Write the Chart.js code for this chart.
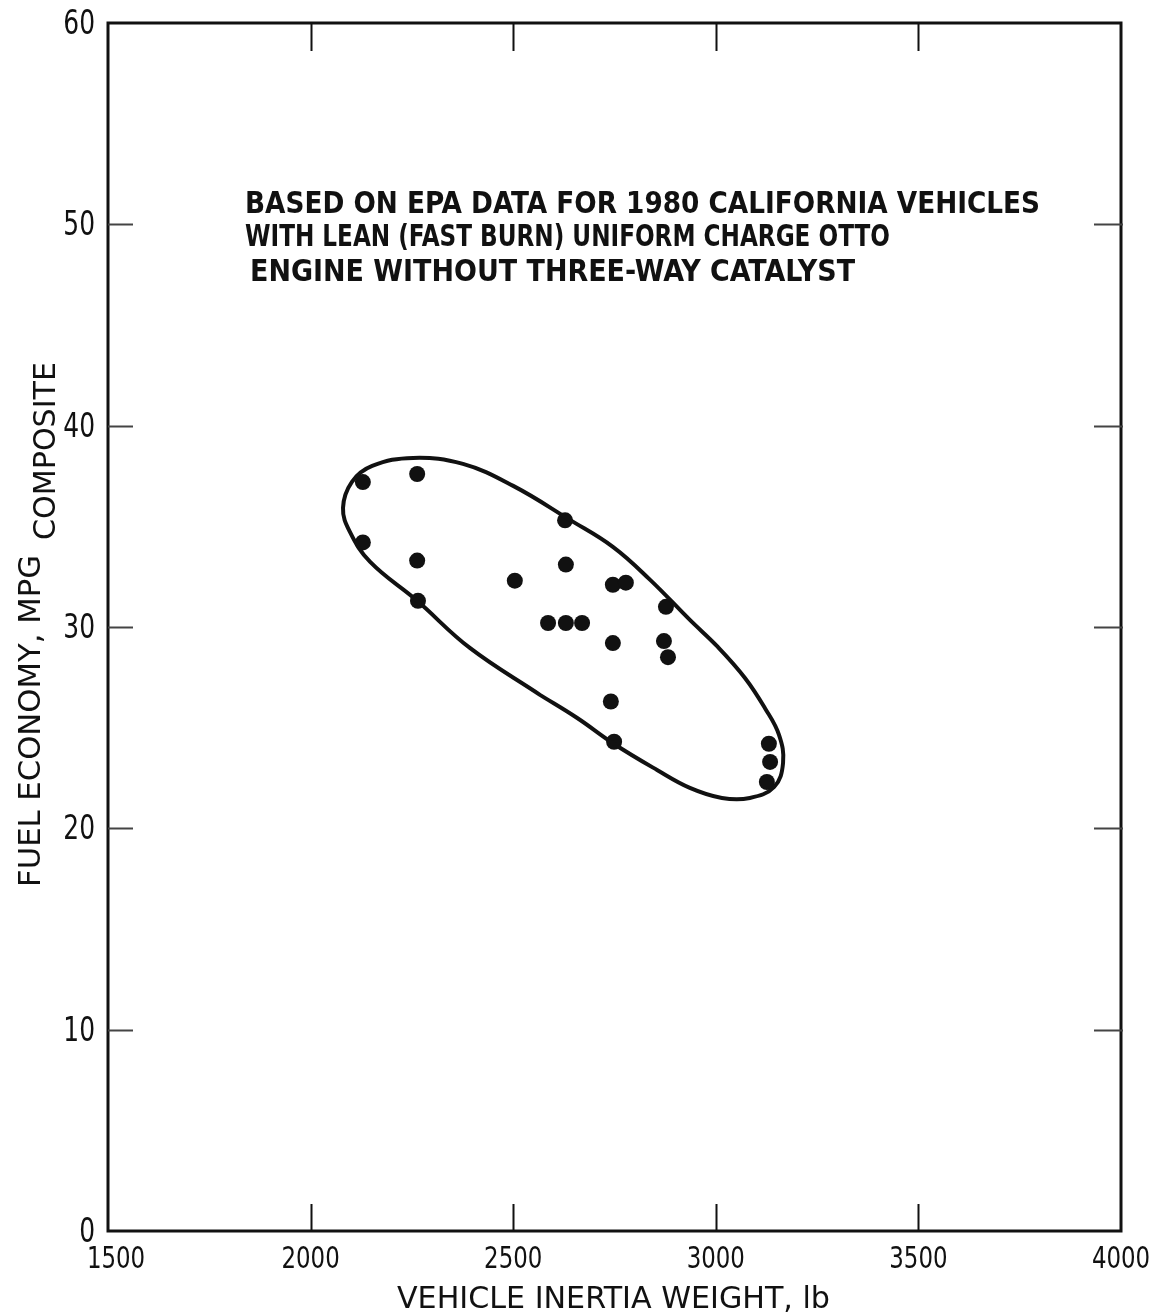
<!DOCTYPE html>
<html>
<head>
<meta charset="utf-8">
<script src="https://cdn.jsdelivr.net/npm/chart.js@4.4.1/dist/chart.umd.min.js"></script>
<style>
  html, body { margin: 0; padding: 0; background: #fff; }
  #wrap { width: 1156px; height: 1315px; position: relative; }
</style>
</head>
<body>
<div id="wrap"><canvas id="c"></canvas></div>
<script>
// Vehicle inertia weight (lb) and composite fuel economy (mpg) per vehicle
const weights = [2129, 2263, 2628, 2129, 2263, 2630, 2504, 2746, 2778, 2265, 2586,
                 2630, 2670, 2877, 2872, 2882, 2746, 2741, 2749, 3131, 3134, 3126];
const mpg     = [37.2, 37.6, 35.3, 34.2, 33.3, 33.1, 32.3, 32.1, 32.2, 31.3, 30.2,
                 30.2, 30.2, 31.0, 29.3, 28.5, 29.2, 26.3, 24.3, 24.2, 23.3, 22.3];

// Hand-drawn envelope around the data (closed loop, starts and ends on the lower edge)
const envelopeWeight = [2566, 2393, 2263, 2147, 2097, 2080, 2102, 2152, 2253, 2376, 2500, 2640, 2746, 2838,
                        2936, 3005, 3072, 3121, 3156, 3166, 3144, 3084, 3015, 2936, 2855, 2749, 2658, 2566];
const envelopeMpg    = [26.63, 28.96, 31.30, 33.23, 34.72, 35.92, 37.21, 38.00, 38.40, 38.10, 37.01, 35.32, 33.98, 32.34,
                        30.35, 29.01, 27.47, 25.98, 24.64, 23.25, 22.06, 21.51, 21.51, 22.01, 22.90, 24.19, 25.48, 26.63];

// Axis ticks
const xTicks = [1500, 2000, 2500, 3000, 3500, 4000];
const yTicks = [0, 10, 20, 30, 40, 50, 60];

const xTitle = 'VEHICLE INERTIA WEIGHT, lb';
const yTitleMain = 'FUEL ECONOMY, MPG';
const yTitleSub = 'COMPOSITE';
const noteLines = [
  'BASED ON EPA DATA FOR 1980 CALIFORNIA VEHICLES',
  'WITH LEAN (FAST BURN) UNIFORM CHARGE OTTO',
  'ENGINE WITHOUT THREE-WAY CATALYST'
];

const points = weights.map((w, i) => ({ x: w, y: mpg[i] }));
const envelope = envelopeWeight.map((w, i) => ({ x: w, y: envelopeMpg[i] }));

const INK = '#111';
const FACE = '"DejaVu Sans Condensed", "DejaVu Sans", sans-serif';

// Draw text squeezed/stretched to a given width (left aligned)
function fitText(ctx, text, x, y, width) {
  const w = ctx.measureText(text).width;
  ctx.save();
  ctx.translate(x, y);
  ctx.scale(width / w, 1);
  ctx.textAlign = 'left';
  ctx.fillText(text, 0, 0);
  ctx.restore();
}

// Draw text with a horizontal squeeze, aligned around x
function narrowText(ctx, text, x, y, sx, align) {
  const w = ctx.measureText(text).width * sx;
  let left = x;
  if (align === 'center') left = x - w / 2;
  else if (align === 'right') left = x - w;
  ctx.save();
  ctx.translate(left, y);
  ctx.scale(sx, 1);
  ctx.textAlign = 'left';
  ctx.fillText(text, 0, 0);
  ctx.restore();
}

const framePlugin = {
  id: 'frame',
  afterDraw(chart) {
    const { ctx, chartArea: a, scales } = chart;
    const xs = scales.x, ys = scales.y;
    ctx.save();
    ctx.strokeStyle = INK;
    ctx.lineCap = 'butt';

    // outer frame
    ctx.lineWidth = 3;
    ctx.strokeRect(a.left, a.top, a.right - a.left, a.bottom - a.top);

    // inward ticks on top and bottom
    ctx.lineWidth = 2;
    xTicks.slice(1, -1).forEach(v => {
      const px = Math.round(xs.getPixelForValue(v)) + 0.5;
      ctx.beginPath();
      ctx.moveTo(px, a.top); ctx.lineTo(px, a.top + 28);
      ctx.moveTo(px, a.bottom); ctx.lineTo(px, a.bottom - 27);
      ctx.stroke();
    });
    // ticks on left and right
    ctx.strokeStyle = '#444';
    yTicks.slice(1, -1).forEach(v => {
      const py = Math.round(ys.getPixelForValue(v)) + 0.5;
      ctx.beginPath();
      ctx.moveTo(a.left, py); ctx.lineTo(a.left + 25, py);
      ctx.moveTo(a.right + 2, py); ctx.lineTo(a.right - 27, py);
      ctx.stroke();
    });

    // tick labels
    ctx.fillStyle = INK;
    ctx.textBaseline = 'alphabetic';
    ctx.font = '33px ' + FACE;
    yTicks.forEach(v => {
      narrowText(ctx, String(v), a.left - 13, ys.getPixelForValue(v) + 11, 0.84, 'right');
    });
    ctx.font = '31px ' + FACE;
    xTicks.forEach((v, i) => {
      const off = i === 0 ? 8 : 0;
      narrowText(ctx, String(v), xs.getPixelForValue(v) + off, a.bottom + 37, 0.82, 'center');
    });

    // x axis title
    ctx.font = '31px ' + FACE;
    fitText(ctx, xTitle, 397, a.bottom + 77, 433);

    // y axis title, rotated
    ctx.save();
    ctx.translate(40, 887);
    ctx.rotate(-Math.PI / 2);
    ctx.font = '31px ' + FACE;
    fitText(ctx, yTitleMain, 0, 0, 332);
    fitText(ctx, yTitleSub, 347, 15, 178);
    ctx.restore();

    // note block
    ctx.font = 'bold 31px ' + FACE;
    fitText(ctx, noteLines[0], 245, 213, 795);
    fitText(ctx, noteLines[1], 245, 246, 645);
    fitText(ctx, noteLines[2], 250, 281, 605);
    ctx.restore();
  }
};

new Chart(document.getElementById('c'), {
  type: 'scatter',
  data: {
    datasets: [
      {
        label: 'Envelope',
        data: envelope,
        showLine: true,
        tension: 0.4,
        borderColor: INK,
        borderWidth: 4,
        pointRadius: 0,
        fill: false
      },
      {
        label: 'Vehicles',
        data: points,
        pointRadius: 8,
        pointBackgroundColor: INK,
        pointBorderColor: INK,
        pointBorderWidth: 0,
        showLine: false
      }
    ]
  },
  options: {
    responsive: true,
    maintainAspectRatio: false,
    animation: false,
    events: [],
    layout: { padding: { left: 108, top: 23, right: 35, bottom: 84 } },
    plugins: { legend: { display: false }, tooltip: { enabled: false } },
    scales: {
      x: { type: 'linear', min: 1500, max: 4000, display: false },
      y: { type: 'linear', min: 0, max: 60, display: false }
    }
  },
  plugins: [framePlugin]
});
</script>
</body>
</html>
